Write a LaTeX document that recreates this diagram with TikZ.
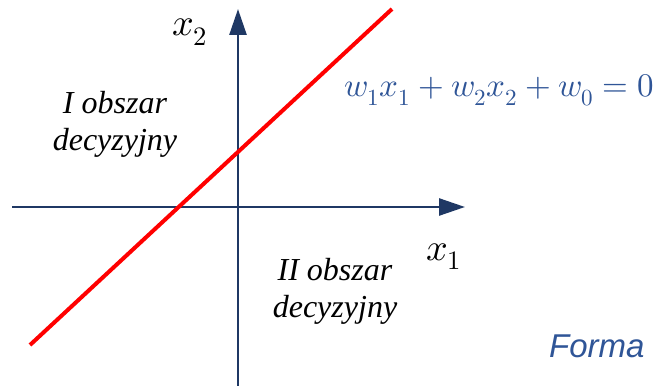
\documentclass[tikz,border=0pt]{standalone}
\usepackage{fontspec}
\usepackage{unicode-math}
\setmainfont{Liberation Serif}
\setmathfont{Latin Modern Math}
\newfontfamily\sansit{Liberation Sans}
\usetikzlibrary{arrows.meta}
\definecolor{axisnavy}{HTML}{1F3864}
\definecolor{eqblue}{HTML}{2F5597}
\tikzset{
  axisline/.style={draw=axisnavy, line width=2.6pt, -{Triangle[length=26pt,width=17pt]}},
  sepline/.style={draw=red, line width=4pt},
  mathlbl/.style={inner sep=0pt, anchor=base west, font=\fontsize{38}{44}\selectfont},
  regionlbl/.style={inner sep=0pt, align=center, font=\fontsize{32}{37}\selectfont\itshape},
}
\begin{document}
\begin{tikzpicture}[x=1pt,y=-1pt]
\useasboundingbox (0,0) rectangle (655,385);
\coordinate (hs) at (12,207);
\coordinate (he) at (465,207);
\coordinate (vs) at (238,390);
\coordinate (ve) at (238,9);
\coordinate (ls) at (30,345);
\coordinate (le) at (392,9);
\draw[axisline] (hs) -- (he);
\draw[axisline] (vs) -- (ve);
\draw[sepline] (ls) -- (le);
\node[mathlbl] (x2) at (172,36) {$x_2$};
\node[mathlbl] (x1) at (426,260) {$x_1$};
\node[mathlbl, text=eqblue, font=\fontsize{33}{39}\selectfont] (eq) at (344,97) {$w_1x_1+w_2x_2+w_0=0$};
\node[regionlbl] (r1) at (115,124) {I obszar\\decyzyjny};
\node[regionlbl] (r2) at (335,291) {II obszar\\decyzyjny};
\node[inner sep=0pt, anchor=base west, text=eqblue, font=\fontsize{33}{38}\sansit\itshape] (forma) at (549,357) {Forma};
\end{tikzpicture}
\end{document}
